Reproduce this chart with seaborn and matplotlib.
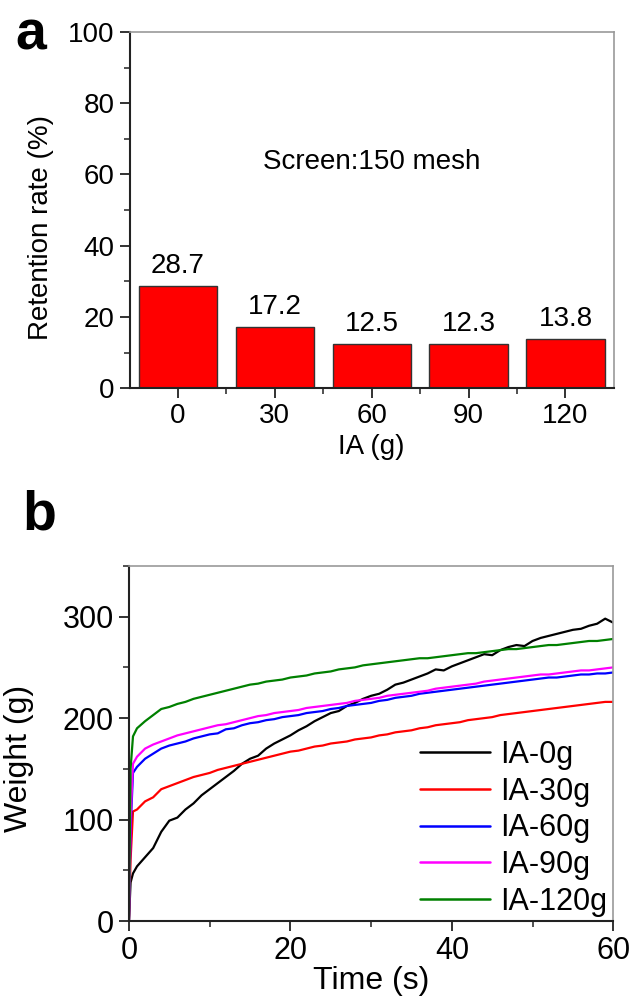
import matplotlib
matplotlib.use("Agg")
import matplotlib.pyplot as plt
import seaborn as sns
import pandas as pd
from matplotlib.ticker import MultipleLocator, FixedLocator

# ---------------- data ----------------
ia_amounts = ["0", "30", "60", "90", "120"]
retention = [28.7, 17.2, 12.5, 12.3, 13.8]

time_s = [0, 0.2, 0.5] + list(range(1, 61))
w_ia0 = [0, 38, 47, 54, 63, 72, 88, 99, 102, 110, 116, 124, 130, 136, 142, 148, 155, 160, 163, 170, 175,
         179, 183, 188, 192, 197, 201, 205, 207, 212, 215, 219, 222, 224, 228, 233, 235, 238, 241, 244, 248,
         247, 251, 254, 257, 260, 263, 262, 267, 270, 272, 271, 276, 279, 281, 283, 285, 287, 288, 291, 293,
         298, 294]
w_ia30 = [0, 60, 108, 110, 118, 122, 130, 133, 136, 139, 142, 144, 146, 149, 151, 153, 155, 157, 159, 161,
          163, 165, 167, 168, 170, 172, 173, 175, 176, 177, 179, 180, 181, 183, 184, 186, 187, 188, 190, 191,
          193, 194, 195, 196, 198, 199, 200, 201, 203, 204, 205, 206, 207, 208, 209, 210, 211, 212, 213, 214,
          215, 216, 216]
w_ia60 = [0, 90, 146, 152, 160, 165, 170, 173, 175, 177, 180, 182, 184, 185, 189, 190, 193, 195, 196, 198,
          199, 201, 202, 203, 205, 206, 207, 209, 210, 212, 213, 214, 215, 217, 218, 220, 221, 222, 224, 225,
          226, 227, 228, 229, 230, 231, 232, 233, 234, 235, 236, 237, 238, 239, 240, 240, 241, 242, 243, 243,
          244, 244, 245]
w_ia90 = [0, 100, 155, 162, 170, 174, 177, 180, 183, 185, 187, 189, 191, 193, 194, 196, 198, 200, 202, 203,
          205, 206, 207, 208, 210, 211, 212, 213, 214, 215, 217, 218, 219, 220, 222, 223, 224, 225, 226, 227,
          229, 230, 231, 232, 233, 234, 236, 237, 238, 239, 240, 241, 242, 243, 243, 244, 245, 246, 247, 247,
          248, 249, 250]
w_ia120 = [0, 150, 182, 190, 197, 203, 209, 211, 214, 216, 219, 221, 223, 225, 227, 229, 231, 233, 234, 236,
           237, 238, 240, 241, 242, 244, 245, 246, 248, 249, 250, 252, 253, 254, 255, 256, 257, 258, 259, 259,
           260, 261, 262, 263, 264, 264, 265, 266, 267, 268, 268, 269, 270, 271, 272, 272, 273, 274, 275, 276,
           276, 277, 278]
series_names = ["IA-0g", "IA-30g", "IA-60g", "IA-90g", "IA-120g"]
series_colors = ["#000000", "#FF0000", "#0000FF", "#FF00FF", "#008000"]

# ---------------- style ----------------
sns.set_style("ticks")
plt.rcParams["font.family"] = ["Liberation Sans", "DejaVu Sans"]
plt.rcParams["axes.linewidth"] = 1.4
for k in ["text.color", "axes.labelcolor", "xtick.color", "ytick.color"]:
    plt.rcParams[k] = "black"

fig = plt.figure(figsize=(6.29, 9.98), dpi=100)


def style_axes(ax, fs):
    for s in ["left", "bottom"]:
        ax.spines[s].set_color("#222222")
        ax.spines[s].set_linewidth(1.5)
    for s in ["top", "right"]:
        ax.spines[s].set_color("#999999")
        ax.spines[s].set_linewidth(1.2)
    ax.tick_params(which="major", direction="out", length=7, width=1.3, labelsize=fs,
                   color="#222222", pad=4)
    ax.tick_params(which="minor", direction="out", length=4, width=1.1, color="#222222")

# ---------------- panel a ----------------
FS_A = 20
ax1 = fig.add_axes([0.206, 0.611, 0.770, 0.357])
df_a = pd.DataFrame({"IA": ia_amounts, "rate": retention})
sns.barplot(data=df_a, x="IA", y="rate", order=ia_amounts, color="#FF0000",
            edgecolor="#333333", linewidth=1.0, width=0.81, ax=ax1, saturation=1)
for p, v in zip(ax1.patches, retention):
    ax1.annotate(f"{v}", (p.get_x() + p.get_width() / 2, p.get_height()),
                 xytext=(0, 5), textcoords="offset points", ha="center", va="bottom", fontsize=FS_A)
ax1.set_xlim(-0.5, 4.5)
ax1.set_ylim(0, 100)
ax1.yaxis.set_major_locator(MultipleLocator(20))
ax1.yaxis.set_minor_locator(MultipleLocator(10))
ax1.xaxis.set_minor_locator(FixedLocator([0.5, 1.5, 2.5, 3.5]))
ax1.set_xlabel("IA (g)", fontsize=FS_A, labelpad=3)
ax1.set_ylabel("Retention rate (%)", fontsize=FS_A)
ax1.yaxis.set_label_coords(-0.157, 0.45)
ax1.text(0.5, 0.635, "Screen:150 mesh", transform=ax1.transAxes, ha="center", va="center", fontsize=FS_A)
style_axes(ax1, FS_A)
fig.text(0.024, 0.950, "a", fontsize=40, fontweight="bold", ha="left", va="baseline")

# ---------------- panel b ----------------
FS_B = 22
ax2 = fig.add_axes([0.205, 0.077, 0.770, 0.356])
frames = []
for name, vals in zip(series_names, [w_ia0, w_ia30, w_ia60, w_ia90, w_ia120]):
    frames.append(pd.DataFrame({"Time": time_s, "Weight": vals, "Sample": name}))
df_b = pd.concat(frames, ignore_index=True)
sns.lineplot(data=df_b, x="Time", y="Weight", hue="Sample", hue_order=series_names,
             palette=dict(zip(series_names, series_colors)), linewidth=1.6, ax=ax2, estimator=None)
ax2.set_xlim(0, 60)
ax2.set_ylim(0, 350)
ax2.xaxis.set_major_locator(MultipleLocator(20))
ax2.xaxis.set_minor_locator(MultipleLocator(10))
ax2.yaxis.set_major_locator(FixedLocator([0, 100, 200, 300]))
ax2.yaxis.set_minor_locator(FixedLocator([50, 150, 250, 350]))
ax2.set_xlabel("Time (s)", fontsize=23, labelpad=0)
ax2.set_ylabel("Weight (g)", fontsize=23)
ax2.yaxis.set_label_coords(-0.196, 0.458)
style_axes(ax2, FS_B)
leg = ax2.legend(loc="lower right", bbox_to_anchor=(1.0, -0.005), frameon=False, fontsize=22,
                 handlelength=2.3, handletextpad=0.33, labelspacing=0.22, borderaxespad=0.0,
                 borderpad=0.2, title=None)
for line in leg.get_lines():
    line.set_linewidth(1.8)
fig.text(0.035, 0.469, "b", fontsize=40, fontweight="bold", ha="left", va="baseline")

fig.savefig("out.png", dpi=100)
